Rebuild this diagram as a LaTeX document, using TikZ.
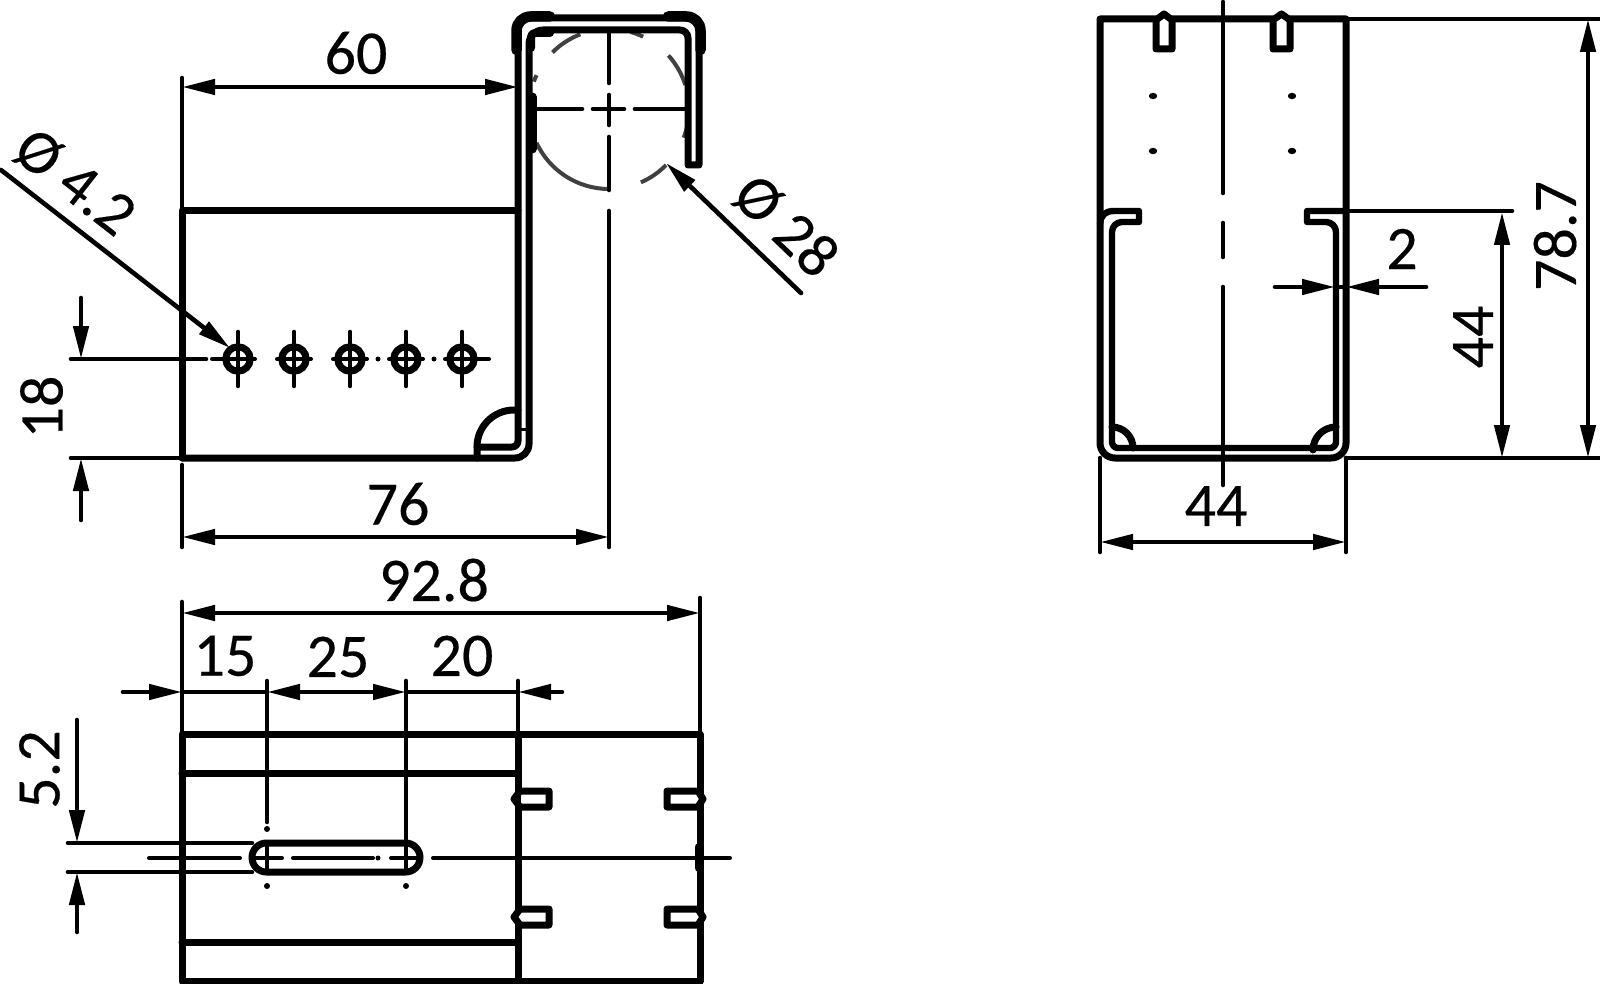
\documentclass[tikz,border=0pt]{standalone}
\usepackage{fontspec}
\setmainfont[FakeBold=0.3,AutoFakeBold=0.3]{Carlito}
\usetikzlibrary{arrows.meta}
\definecolor{hidden}{HTML}{404040}
\tikzset{
  part/.style={line width=7pt,line cap=round,line join=round,black},
  heavy/.style={line width=10.5pt,line cap=round,line join=round},
  dimline/.style={line width=4.6pt,line cap=round,line join=round},
  thinline/.style={line width=4pt,line cap=round},
  hiddenarc/.style={line width=4pt,hidden},
  arr/.style={-{Triangle[length=33pt,width=15pt]}},
  arrb/.style={{Triangle[length=33pt,width=15pt]}-{Triangle[length=33pt,width=15pt]}},
  dimtext/.style={font=\fontsize{62}{70}\bfseries\selectfont,inner sep=0pt,anchor=center},
  tab/.style={part,fill=white},
  dot/.style={circle,fill=black,inner sep=0pt,minimum size=6pt},
}
\begin{document}
\begin{tikzpicture}[x=1pt,y=1pt]
\useasboundingbox (0,0) rectangle (1600,-984);
% ---------- front view ----------
\coordinate (ftl) at (182,-211);
\coordinate (fbl) at (182,-458);
\draw[part] (fbl) -- (ftl) -- (518,-211);
% hidden circle
\foreach \a/\b in {111/135,74.5/64.7,42/17.5,-10/-21,-44.5/-66.5,270/205,155/160}
  \draw[hiddenarc] ({609+80*cos(\a)},{-109+80*sin(\a)}) arc[start angle=\a,end angle=\b,radius=80pt];
% profile
\draw[part] (182,-458) -- (500,-458) [rounded corners=14pt] -- (529,-458) -- (529,-30) [rounded corners=8pt] -- (688,-30) [sharp corners] -- (688,-165) -- (699,-165) [rounded corners=13pt] -- (699,-18) -- (518,-18) [rounded corners=6pt] -- (518,-447) -- (477,-447);
\draw[heavy] (516.5,-50) [rounded corners=14pt] -- (516.5,-16.5) -- (550,-16.5);
\draw[heavy] (700.5,-50) [rounded corners=14pt] -- (700.5,-16.5) -- (668,-16.5);
\draw[line width=8pt,line cap=round,line join=round] (531,-48) [rounded corners=4pt] -- (531,-33) -- (550,-33);
\draw[line width=9pt,line cap=round] (532,-97) -- (532,-149);
\draw[part] (477,-458) -- (477,-447) arc[start angle=180,end angle=90,radius=37pt] -- (518,-410);
\draw[line width=3pt] (518,-429) -- (529,-429);
% centre lines of the bend
\draw[dimline] (609,-33) -- (609,-83);
\draw[dimline] (609,-95) -- (609,-125);
\draw[dimline] (609,-137) -- (609,-190);
\draw[dimline] (609,-211) -- (609,-547);
\draw[dimline] (537,-109) -- (582,-109);
\draw[dimline] (593,-109) -- (624,-109);
\draw[dimline] (635,-109) -- (685,-109);
% holes
\foreach \x/\n in {238/a,294/b,350/c,406/d,462/e}{
  \draw[line width=7pt] (\x,-359) circle[radius=12.2pt];
  \draw[dimline] (\x,-332) -- (\x,-386);
  \draw[thinline] (\x-17,-359) -- (\x+17,-359);
}
\draw[thinline] (462,-359) -- (489,-359);
\draw[thinline] (212,-359) -- (238,-359);
\node[dot,minimum size=5pt] (d1) at (378,-359) {};
\node[dot,minimum size=5pt] (d2) at (434,-359) {};
% dims front
\coordinate (l60) at (182,-87);
\coordinate (r60) at (518,-87);
\draw[dimline] (182,-78) -- (ftl);
\draw[dimline,arrb] (l60) -- (r60);
\node[dimtext] (t60) at (356,-53) {60};
\draw[dimline] (71,-359) -- (206,-359);
\draw[dimline] (71,-458) -- (178,-458);
\draw[dimline,arr] (81,-298) -- (81,-359);
\draw[dimline,arr] (81,-520) -- (81,-458);
\node[dimtext,rotate=90] (t18) at (41.5,-407) {18};
\draw[dimline] (182,-465) -- (182,-547);
\draw[dimline,arrb] (182,-537) -- (609,-537);
\node[dimtext] (t76) at (398,-504) {76};
\draw[dimline,arr] (1,-170) -- (230,-348);
\node[dimtext,rotate=-38] (td4) at (75,-182) {Ø 4.2};
\draw[dimline,arr] (801,-293) -- (666,-163);
\node[dimtext,rotate=-44] (td28) at (786,-226) {Ø 28};
% ---------- top view ----------
\draw[part] (182,-981) -- (182,-734) -- (700,-734) -- (700,-981) -- cycle;
\draw[part] (518,-734) -- (518,-981);
\draw[part] (182,-773) -- (518,-773);
\draw[part] (182,-942) -- (518,-942);
\draw[line width=8pt,line cap=round] (698.5,-847) -- (698.5,-868);
\draw[tab] (549,-791) -- (520,-791) -- (514,-799) -- (520,-807) -- (549,-807) -- cycle;
\draw[line width=6pt] (518,-793) -- (518,-805);
\draw[tab] (549,-909) -- (520,-909) -- (514,-917) -- (520,-925) -- (549,-925) -- cycle;
\draw[tab] (667,-791) -- (698,-791) -- (703,-799) -- (698,-807) -- (667,-807) -- cycle;
\draw[tab] (667,-909) -- (698,-909) -- (703,-917) -- (698,-925) -- (667,-925) -- cycle;
\draw[part,rounded corners=14.4pt] (252,-843) rectangle (420,-872);
\draw[dimline] (68,-843) -- (252,-843);
\draw[dimline] (68,-872) -- (252,-872);
\draw[dimline,arr] (77,-720) -- (77,-843);
\draw[dimline,arr] (77,-932) -- (77,-872);
\node[dimtext,rotate=90] (t52) at (39.5,-769.5) {5.2};
\draw[dimline] (267,-681) -- (267,-822);
\node[dot] (d3) at (267,-829) {};
\draw[dimline] (267,-843) -- (267,-872);
\node[dot] (d4) at (267,-886) {};
\draw[dimline] (406,-681) -- (406,-872);
\node[dot] (d5) at (406,-886) {};
\draw[dimline] (518,-681) -- (518,-734);
\draw[dimline] (182,-602) -- (182,-734);
\draw[dimline] (700,-598) -- (700,-734);
\draw[thinline] (149,-858) -- (240,-858);
\draw[thinline] (255,-858) -- (282,-858);
\draw[thinline] (293,-858) -- (373,-858);
\node[dot,minimum size=5pt] (d6) at (378,-858) {};
\draw[thinline] (391,-858) -- (420,-858);
\draw[thinline] (433,-858) -- (730,-858);
\draw[dimline,arrb] (182,-613) -- (700,-613);
\node[dimtext] (t928) at (434,-580) {92.8};
\draw[dimline,arr] (123,-692) -- (182,-692);
\draw[dimline] (182,-692) -- (267,-692);
\draw[dimline,arr] (300,-692) -- (267,-692);
\draw[dimline,arr] (360,-692) -- (406,-692);
\draw[dimline] (300,-692) -- (360,-692);
\draw[dimline] (406,-692) -- (518,-692);
\draw[dimline,arr] (562,-692) -- (518,-692);
\node[dimtext] (t15) at (225,-656) {15};
\node[dimtext] (t25) at (338,-657) {25};
\node[dimtext] (t20) at (462,-656) {20};
% ---------- side view ----------
\draw[part] (1100,-19) [rounded corners=15pt] -- (1100,-458) -- (1346,-458) [sharp corners] -- (1346,-19) -- cycle;
\draw[line width=6.4pt,line cap=round,line join=round] (1100,-224) .. controls (1101,-215) and (1105,-211) .. (1114,-211) -- (1139,-211) -- (1139,-222) [rounded corners=10pt] -- (1112,-222) [rounded corners=6pt] -- (1112,-448) -- (1336,-448) [rounded corners=10pt] -- (1336,-222) [sharp corners] -- (1307,-222) -- (1307,-211) [rounded corners=9pt] -- (1346,-211);
\draw[part] (1112,-427) arc[start angle=90,end angle=0,radius=21pt];
\draw[part] (1336,-427) arc[start angle=90,end angle=180,radius=23pt];
\draw[tab] (1156,-49) -- (1156,-20) -- (1164,-14) -- (1172,-20) -- (1172,-49) -- cycle;
\draw[tab] (1273,-49) -- (1273,-20) -- (1281.5,-14) -- (1290,-20) -- (1290,-49) -- cycle;
\foreach \x/\y in {1153/96,1153/151,1292/96,1292/151}
  \fill (\x,-\y) ellipse[x radius=4.2pt,y radius=3.2pt];
\draw[dimline] (1223,-2) -- (1223,-193);
\draw[dimline] (1223,-223) -- (1223,-257);
\draw[dimline] (1223,-287) -- (1223,-485);
% dims side
\draw[dimline] (1100,-458) -- (1100,-552);
\draw[dimline] (1346,-458) -- (1346,-552);
\draw[dimline,arrb] (1100,-542) -- (1346,-542);
\node[dimtext] (t44a) at (1216,-506) {44};
\draw[dimline] (1346,-19) -- (1600,-19);
\draw[dimline] (1346,-458) -- (1600,-458);
\draw[dimline] (1346,-211) -- (1512,-211);
\draw[dimline,arrb] (1588,-19) -- (1588,-458);
\draw[dimline,arrb] (1502,-212) -- (1502,-458);
\node[dimtext,rotate=90] (t787) at (1555,-236) {78.7};
\node[dimtext,rotate=90] (t44b) at (1473,-337) {44};
\draw[dimline,arr] (1275,-287) -- (1335,-287);
\draw[dimline,arr] (1426,-287) -- (1346,-287);
\draw[dimline] (1335,-287) -- (1346,-287);
\node[dimtext] (t2) at (1402,-249) {2};
\end{tikzpicture}
\end{document}
